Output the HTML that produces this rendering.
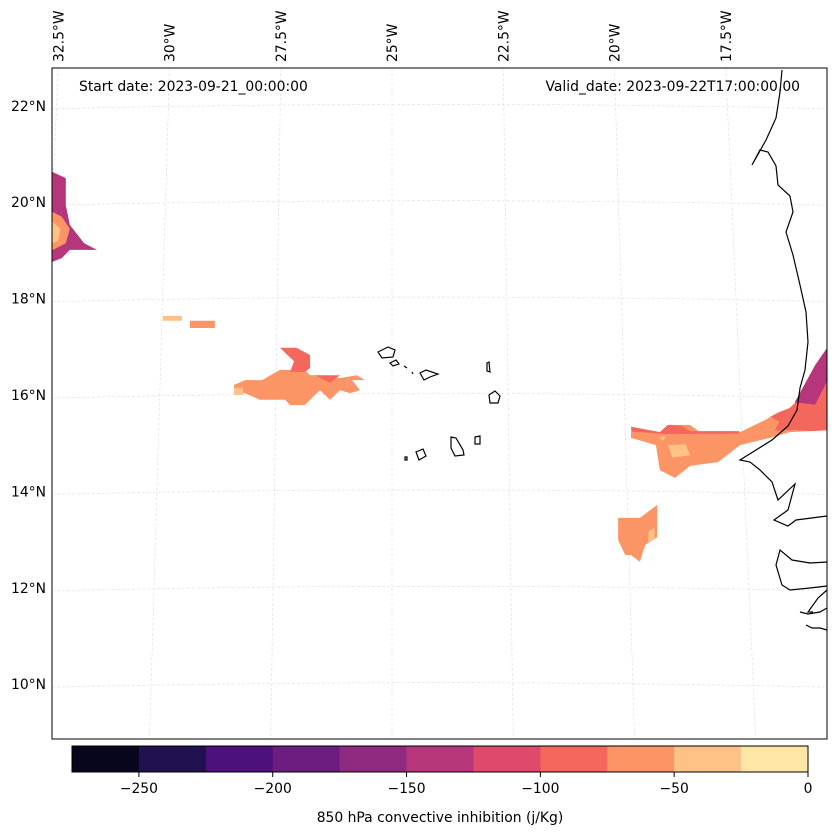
<!DOCTYPE html>
<html><head><meta charset="utf-8">
<style>
body{margin:0;background:#fff;}
svg{display:block;font-family:"DejaVu Sans","Liberation Sans",sans-serif;}
</style></head>
<body>
<svg id="chart" width="837" height="836" viewBox="0 0 837 836" xmlns="http://www.w3.org/2000/svg">
<defs><clipPath id="mapclip"><rect x="52" y="68" width="775" height="671"/></clipPath></defs>
<g id="grid" clip-path="url(#mapclip)"></g>
<g id="fills" clip-path="url(#mapclip)"></g>
<g id="coast" fill="none" stroke="#000" stroke-width="1.2">
<path d="M782,70 L780,92 L776,118 L766,140 L752,165 L760,150 L768,152 L776,166 L778,185 L790,196 L793,212 L786,232 L793,255 L800,285 L806,312 L808,342 L805,370 L800,388 L797,410 L788,426 L772,440 L756,450 L740,460 L750,462 L760,470 L772,482 L778,500 L795,484 L788,510 L774,520 L788,526 L796,520 L827,516"/>
<path d="M827,562 L810,563 L792,560 L780,550 L776,565 L782,585 L790,590 L810,588 L827,586 M827,590 L818,598 L808,612 L813,612 M800,612 L808,614 L820,612 L827,608 M806,625 L812,628 L820,628 L827,630"/>
<path d="M378,352 L388,347 L395,350 L393,357 L382,358 Z M390,363 L396,360 L399,364 L393,366 Z M404,366 L407,368 M412,372 L413,374 M420,373 L426,370 L438,374 L430,377 L424,380 Z M487,363 L489,362 L490,372 L487,371 Z M489,395 L495,391 L500,396 L498,403 L490,403 Z M451,437 L456,438 L463,450 L464,455 L455,456 L451,448 Z M475,437 L480,436 L480,444 L475,444 Z M416,452 L423,449 L426,456 L419,460 Z M405,457 L407,457 L407,460 L405,460 Z"/>
</g>
<rect x="52" y="68" width="775" height="671" fill="none" stroke="#000" stroke-width="1"/>
<text x="79" y="91" font-size="13.9">Start date: 2023-09-21_00:00:00</text>
<text x="800" y="91" font-size="13.9" text-anchor="end">Valid_date: 2023-09-22T17:00:00.00</text>
<g id="lonlabels"></g>
<g id="latlabels"></g>
<g id="cbar"></g>
<text x="440" y="822" font-size="13.9" text-anchor="middle">850 hPa convective inhibition (j/Kg)</text>
</svg>
<script>
const lonTicks=[-32.5,-30,-27.5,-25,-22.5,-20,-17.5];
const lonTickLabels=["32.5°W","30°W","27.5°W","25°W","22.5°W","20°W","17.5°W"];
const latTicks=[22,20,18,16,14,12,10];
const latTickLabels=["22°N","20°N","18°N","16°N","14°N","12°N","10°N"];
const levels=[-275,-250,-225,-200,-175,-150,-125,-100,-75,-50,-25,0];
const levelColors=["#07061c","#221150","#4c117a","#6c1d80","#8f2a80","#b5367a","#dd4a6b","#f3675c","#fc9565","#fec287","#fde6a6"];
const cbarTicks=[-250,-200,-150,-100,-50,0];
// contour polygons: level color index + [lon,lat] vertices
const polyLevels=[5,8,9, 9,8, 8,7,7,9, 8,7,7,5,9,9, 8,9];
const polyCoords=[
[[-32.64,20.63],[-32.33,20.5],[-32.33,19.94],[-32.24,19.53],[-31.92,19.15],[-31.63,19.01],[-31.92,19.01],[-32.24,19.01],[-32.42,18.84],[-32.64,18.76]],
[[-32.64,19.8],[-32.42,19.7],[-32.24,19.45],[-32.33,19.15],[-32.64,19.0]],
[[-32.64,19.6],[-32.45,19.45],[-32.5,19.2],[-32.64,19.15]],
[[-30.15,17.64],[-29.72,17.64],[-29.72,17.54],[-30.15,17.54]],
[[-29.54,17.54],[-28.98,17.54],[-28.98,17.39],[-29.54,17.39]],
[[-28.55,16.21],[-28.3,16.31],[-27.92,16.31],[-27.52,16.52],[-27.29,16.52],[-26.96,16.52],[-26.84,16.41],[-26.62,16.41],[-26.17,16.35],[-25.79,16.41],[-25.61,16.31],[-25.9,16.31],[-25.72,16.1],[-25.94,16.04],[-26.17,16.1],[-26.39,15.9],[-26.62,16.1],[-26.84,15.9],[-26.96,15.79],[-27.29,15.79],[-27.4,15.9],[-27.97,15.9],[-28.3,16.04],[-28.55,16.04]],
[[-27.52,16.98],[-27.15,16.98],[-26.84,16.83],[-26.84,16.56],[-26.96,16.48],[-27.29,16.48],[-27.2,16.7]],
[[-26.73,16.41],[-26.17,16.41],[-26.39,16.25]],
[[-28.55,16.15],[-28.35,16.15],[-28.35,16.0],[-28.55,16.0]],
[[-19.63,15.34],[-18.98,15.23],[-18.8,15.38],[-18.3,15.38],[-18.08,15.23],[-17.18,15.23],[-16.62,15.48],[-16.33,15.63],[-16.06,15.73],[-15.83,15.94],[-15.49,16.62],[-15.22,16.98],[-15.22,15.27],[-16.06,15.23],[-16.51,15.11],[-17.18,14.96],[-17.67,14.61],[-18.3,14.53],[-18.64,14.28],[-18.98,14.44],[-19.07,14.96],[-19.63,15.11]],
[[-16.5,15.55],[-16.33,15.63],[-16.06,15.73],[-15.83,15.94],[-15.49,16.62],[-15.22,16.98],[-15.22,15.27],[-15.6,15.25],[-16.0,15.28],[-16.4,15.26],[-16.3,15.45]],
[[-19.63,15.34],[-18.98,15.23],[-18.8,15.38],[-18.5,15.36],[-18.3,15.25],[-17.2,15.25],[-17.2,15.2],[-18.9,15.19],[-19.6,15.24]],
[[-15.95,15.85],[-15.49,16.62],[-15.22,16.98],[-15.22,16.3],[-15.49,15.8]],
[[-18.8,14.96],[-18.4,14.98],[-18.3,14.75],[-18.7,14.7]],
[[-19.0,15.12],[-18.85,15.15],[-18.9,15.05]],
[[-19.92,13.45],[-19.43,13.45],[-19.04,13.72],[-19.04,13.05],[-19.31,12.89],[-19.43,12.54],[-19.63,12.68],[-19.76,12.68],[-19.92,12.99]],
[[-19.23,13.18],[-19.1,13.25],[-19.1,13.0],[-19.25,12.95]]
];
const X=lon=>392+(lon+25)*44.5;
const Y=lat=>395-(lat-16)*48.2;
const NS="http://www.w3.org/2000/svg";
function mk(tag,attrs,parent){const e=document.createElementNS(NS,tag);for(const k in attrs)e.setAttribute(k,attrs[k]);parent.appendChild(e);return e;}
const grid=document.getElementById('grid');
lonTicks.concat([-35,-15]).forEach(lon=>{
  const l=mk('line',{x1:X(lon),y1:68,x2:X(lon)+(lon+25)*4,y2:739,stroke:'#ddd','stroke-width':0.6,'stroke-dasharray':'3,2'},grid);
  
  
});
latTicks.forEach(lat=>{
  const p=mk('path',{d:`M52,${Y(lat)+3} Q440,${Y(lat)-6} 827,${Y(lat)+3}`,fill:'none',stroke:'#ddd','stroke-width':0.6,'stroke-dasharray':'3,2'},grid);
  
  
});
const fills=document.getElementById('fills');
polyCoords.forEach((poly,i)=>{
  const p=mk('polygon',{points:poly.map(v=>X(v[0]).toFixed(1)+','+Y(v[1]).toFixed(1)).join(' '),fill:levelColors[polyLevels[i]]},fills);
  
  
});
const ll=document.getElementById('lonlabels');
lonTicks.forEach((lon,i)=>{
  const x=X(lon)+5;
  const t=mk('text',{x:0,y:0,transform:`translate(${x},62) rotate(-90)`,'font-size':13.9},ll);
  t.textContent=lonTickLabels[i];
  
  
});
const la=document.getElementById('latlabels');
latTicks.forEach((lat,i)=>{
  const t=mk('text',{x:46,y:Y(lat)+5,'font-size':13.9,'text-anchor':'end'},la);
  t.textContent=latTickLabels[i];
  
  
});
const cb=document.getElementById('cbar');
const CX=v=>72+(v-levels[0])/(levels[levels.length-1]-levels[0])*736;
levelColors.forEach((c,i)=>{
  const r=mk('rect',{x:CX(levels[i]),y:746,width:CX(levels[i+1])-CX(levels[i])+0.5,height:26,fill:c},cb);
  
  
});
mk('rect',{x:72,y:746,width:736,height:26,fill:'none',stroke:'#000','stroke-width':1},cb);
cbarTicks.forEach(v=>{
  mk('line',{x1:CX(v),y1:772,x2:CX(v),y2:777,stroke:'#000'},cb);
  const t=mk('text',{x:CX(v),y:793,'font-size':13.9,'text-anchor':'middle'},cb);
  t.textContent=(v<0?'\u2212'+Math.abs(v):String(v));
  
  
});
</script>
</body></html>
